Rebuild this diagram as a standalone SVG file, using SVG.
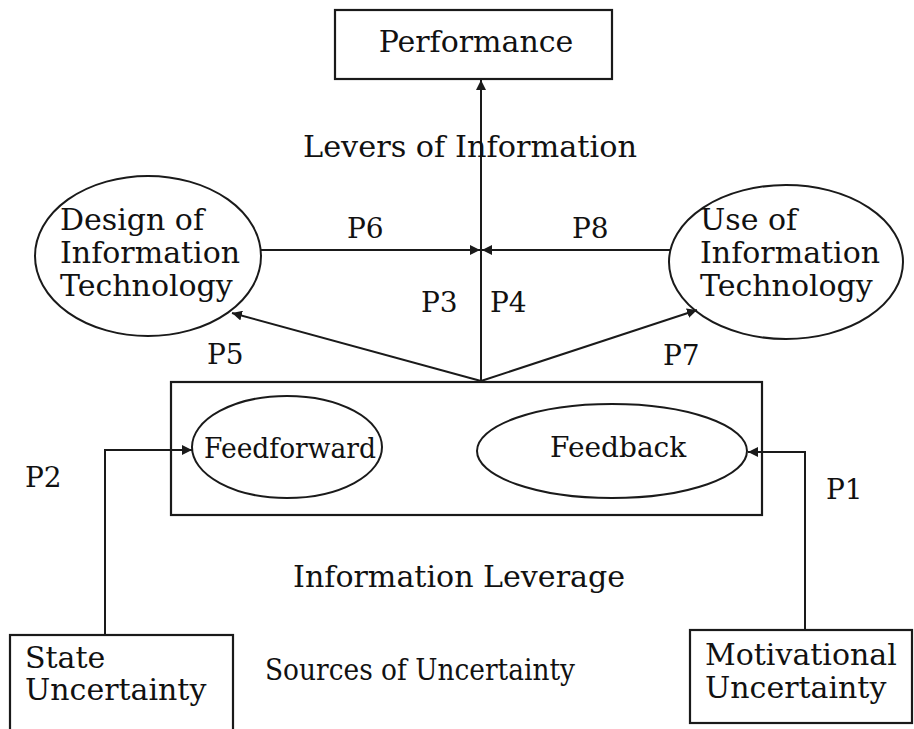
<svg xmlns="http://www.w3.org/2000/svg" width="914" height="729" viewBox="0 0 914 729">
  <style>
    .box { fill: #ffffff; stroke: #1a1a1a; stroke-width: 2.2; }
    .frame { fill: none; stroke: #1a1a1a; stroke-width: 2.2; }
    .oval { fill: none; stroke: #1a1a1a; stroke-width: 2; }
    .t { font-family: "DejaVu Serif", "Liberation Serif", serif; font-size: 30px; fill: #111111; }
    .p { font-size: 28px; }
    .edge { fill: none; stroke: #1a1a1a; stroke-width: 2; }
  </style>
  <defs>
    <marker id="arrow" viewBox="0 0 10 10" refX="10" refY="5" markerWidth="5" markerHeight="5" orient="auto" markerUnits="strokeWidth">
      <path d="M0,0 L10,5 L0,10 z" fill="#1a1a1a"/>
    </marker>
  </defs>
  <rect width="914" height="729" fill="#ffffff"/>

  <!-- connectors -->
  <g id="connectors">
    <line class="edge" x1="481" y1="381" x2="481" y2="80" marker-end="url(#arrow)"/>
    <line class="edge" x1="260" y1="250" x2="480" y2="250" marker-end="url(#arrow)"/>
    <line class="edge" x1="670" y1="250" x2="482" y2="250" marker-end="url(#arrow)"/>
    <line class="edge" x1="481" y1="381" x2="232" y2="313" marker-end="url(#arrow)"/>
    <line class="edge" x1="481" y1="381" x2="697" y2="310" marker-end="url(#arrow)"/>
    <polyline class="edge" points="105,635 105,450 192,450" marker-end="url(#arrow)"/>
    <polyline class="edge" points="805,630 805,452 748,452" marker-end="url(#arrow)"/>
    <text class="t p" x="347" y="238">P6</text>
    <text class="t p" x="572" y="238">P8</text>
    <text class="t p" x="421" y="312">P3</text>
    <text class="t p" x="490" y="312">P4</text>
    <text class="t p" x="207" y="364">P5</text>
    <text class="t p" x="663" y="365">P7</text>
    <text class="t p" x="25" y="487">P2</text>
    <text class="t p" x="826" y="499">P1</text>
  </g>

  <!-- outcome -->
  <g id="performance">
    <rect class="box" x="335" y="10" width="277" height="69"/>
    <text class="t" x="476" y="52" text-anchor="middle">Performance</text>
  </g>

  <text class="t" x="303" y="157" textLength="334" lengthAdjust="spacingAndGlyphs">Levers of Information</text>

  <g id="design-it">
    <ellipse class="oval" cx="148" cy="256" rx="113" ry="80"/>
    <text class="t" x="60" y="230">Design of</text>
    <text class="t" x="60" y="263">Information</text>
    <text class="t" x="60" y="296">Technology</text>
  </g>

  <g id="use-it">
    <ellipse class="oval" cx="786" cy="262" rx="117" ry="77"/>
    <text class="t" x="700" y="230">Use of</text>
    <text class="t" x="700" y="263">Information</text>
    <text class="t" x="700" y="296">Technology</text>
  </g>

  <g id="information-leverage">
    <rect class="frame" x="171" y="382" width="591" height="133"/>
    <text class="t" x="293" y="587" textLength="332" lengthAdjust="spacingAndGlyphs">Information Leverage</text>
  </g>

  <g id="feedforward">
    <ellipse class="oval" cx="287" cy="447" rx="95" ry="51"/>
    <text class="t" x="204" y="458" style="font-size:27px" textLength="172" lengthAdjust="spacingAndGlyphs">Feedforward</text>
  </g>

  <g id="feedback">
    <ellipse class="oval" cx="612" cy="451" rx="135" ry="47"/>
    <text class="t" x="550" y="457" style="font-size:28px">Feedback</text>
  </g>

  <g id="state-uncertainty">
    <rect class="box" x="10" y="635" width="223" height="100"/>
    <text class="t" x="25" y="668">State</text>
    <text class="t" x="25" y="700">Uncertainty</text>
  </g>

  <text class="t" x="265" y="680" style="font-size:29px" textLength="310" lengthAdjust="spacingAndGlyphs">Sources of Uncertainty</text>

  <g id="motivational-uncertainty">
    <rect class="box" x="690" y="630" width="222" height="93"/>
    <text class="t" x="705" y="665">Motivational</text>
    <text class="t" x="705" y="698">Uncertainty</text>
  </g>
</svg>
